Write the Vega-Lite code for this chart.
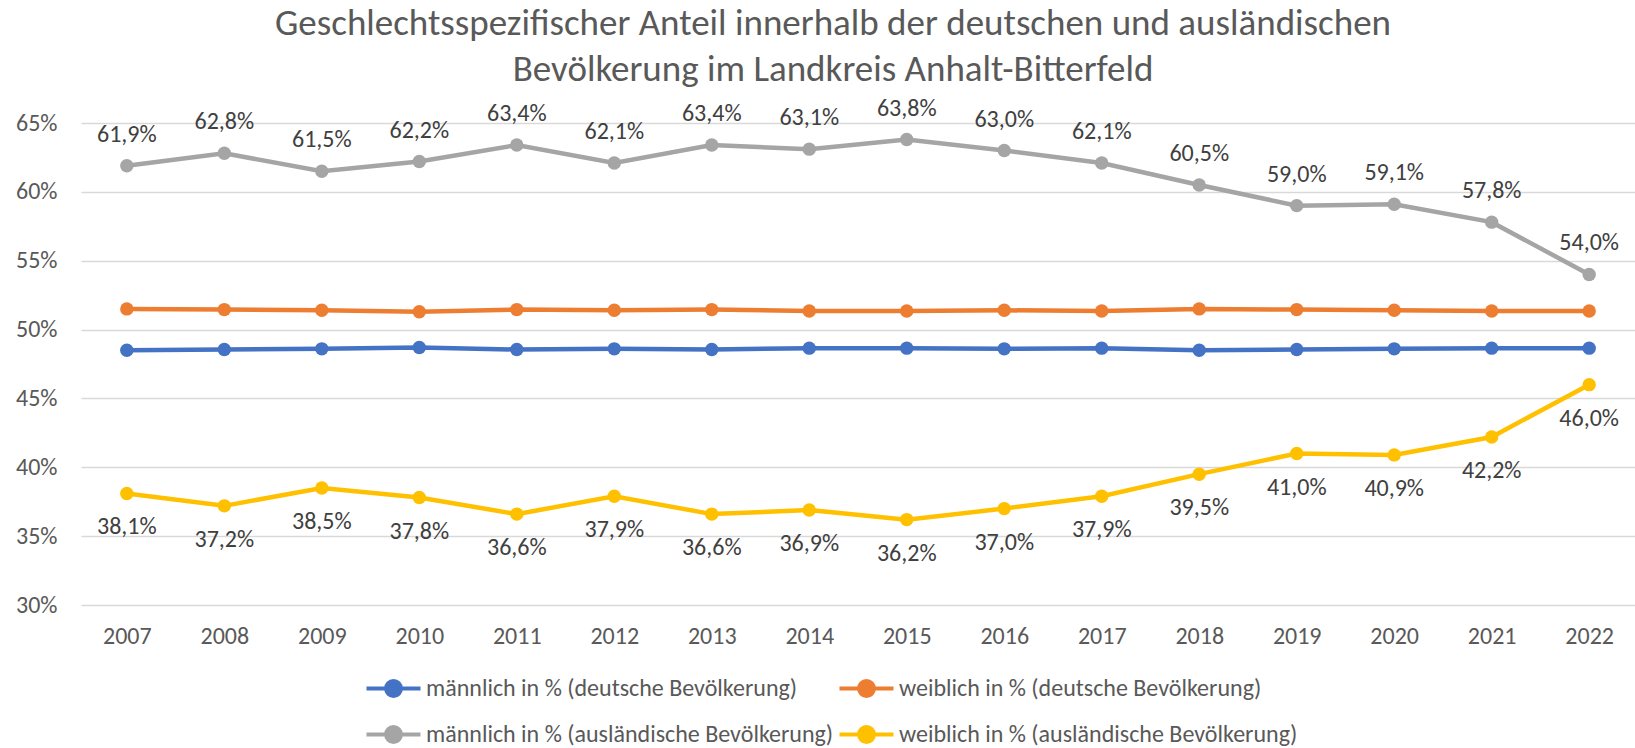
{
  "$schema": "https://vega.github.io/schema/vega-lite/v6.json",
  "autosize": {"type": "none"},
  "width": 1554,
  "height": 482,
  "padding": {"left": 81, "top": 123, "right": 0, "bottom": 143},
  "background": "#ffffff",
  "config": {
    "locale": {"number": {"decimal": ",", "thousands": ".", "grouping": [3], "currency": ["", " €"]}},
    "view": {"stroke": null},
    "font": "Carlito, Liberation Sans, sans-serif"
  },
  "title": {
    "text": ["Geschlechtsspezifischer Anteil innerhalb der deutschen und ausländischen", "Bevölkerung im Landkreis Anhalt-Bitterfeld"],
    "font": "Carlito, Liberation Sans, sans-serif",
    "fontSize": 37,
    "fontWeight": "normal",
    "color": "#595959",
    "anchor": "middle",
    "frame": "group",
    "dx": -25,
    "lineHeight": 46,
    "offset": 8
  },
  "data": {
    "values": [
      {"Jahr": "2007", "Reihe": "männlich in % (deutsche Bevölkerung)", "Anteil": 0.485},
      {"Jahr": "2008", "Reihe": "männlich in % (deutsche Bevölkerung)", "Anteil": 0.4855},
      {"Jahr": "2009", "Reihe": "männlich in % (deutsche Bevölkerung)", "Anteil": 0.486},
      {"Jahr": "2010", "Reihe": "männlich in % (deutsche Bevölkerung)", "Anteil": 0.487},
      {"Jahr": "2011", "Reihe": "männlich in % (deutsche Bevölkerung)", "Anteil": 0.4855},
      {"Jahr": "2012", "Reihe": "männlich in % (deutsche Bevölkerung)", "Anteil": 0.486},
      {"Jahr": "2013", "Reihe": "männlich in % (deutsche Bevölkerung)", "Anteil": 0.4855},
      {"Jahr": "2014", "Reihe": "männlich in % (deutsche Bevölkerung)", "Anteil": 0.4865},
      {"Jahr": "2015", "Reihe": "männlich in % (deutsche Bevölkerung)", "Anteil": 0.4865},
      {"Jahr": "2016", "Reihe": "männlich in % (deutsche Bevölkerung)", "Anteil": 0.486},
      {"Jahr": "2017", "Reihe": "männlich in % (deutsche Bevölkerung)", "Anteil": 0.4865},
      {"Jahr": "2018", "Reihe": "männlich in % (deutsche Bevölkerung)", "Anteil": 0.485},
      {"Jahr": "2019", "Reihe": "männlich in % (deutsche Bevölkerung)", "Anteil": 0.4855},
      {"Jahr": "2020", "Reihe": "männlich in % (deutsche Bevölkerung)", "Anteil": 0.486},
      {"Jahr": "2021", "Reihe": "männlich in % (deutsche Bevölkerung)", "Anteil": 0.4865},
      {"Jahr": "2022", "Reihe": "männlich in % (deutsche Bevölkerung)", "Anteil": 0.4865},
      {"Jahr": "2007", "Reihe": "weiblich in % (deutsche Bevölkerung)", "Anteil": 0.515},
      {"Jahr": "2008", "Reihe": "weiblich in % (deutsche Bevölkerung)", "Anteil": 0.5145},
      {"Jahr": "2009", "Reihe": "weiblich in % (deutsche Bevölkerung)", "Anteil": 0.514},
      {"Jahr": "2010", "Reihe": "weiblich in % (deutsche Bevölkerung)", "Anteil": 0.513},
      {"Jahr": "2011", "Reihe": "weiblich in % (deutsche Bevölkerung)", "Anteil": 0.5145},
      {"Jahr": "2012", "Reihe": "weiblich in % (deutsche Bevölkerung)", "Anteil": 0.514},
      {"Jahr": "2013", "Reihe": "weiblich in % (deutsche Bevölkerung)", "Anteil": 0.5145},
      {"Jahr": "2014", "Reihe": "weiblich in % (deutsche Bevölkerung)", "Anteil": 0.5135},
      {"Jahr": "2015", "Reihe": "weiblich in % (deutsche Bevölkerung)", "Anteil": 0.5135},
      {"Jahr": "2016", "Reihe": "weiblich in % (deutsche Bevölkerung)", "Anteil": 0.514},
      {"Jahr": "2017", "Reihe": "weiblich in % (deutsche Bevölkerung)", "Anteil": 0.5135},
      {"Jahr": "2018", "Reihe": "weiblich in % (deutsche Bevölkerung)", "Anteil": 0.515},
      {"Jahr": "2019", "Reihe": "weiblich in % (deutsche Bevölkerung)", "Anteil": 0.5145},
      {"Jahr": "2020", "Reihe": "weiblich in % (deutsche Bevölkerung)", "Anteil": 0.514},
      {"Jahr": "2021", "Reihe": "weiblich in % (deutsche Bevölkerung)", "Anteil": 0.5135},
      {"Jahr": "2022", "Reihe": "weiblich in % (deutsche Bevölkerung)", "Anteil": 0.5135},
      {"Jahr": "2007", "Reihe": "männlich in % (ausländische Bevölkerung)", "Anteil": 0.619},
      {"Jahr": "2008", "Reihe": "männlich in % (ausländische Bevölkerung)", "Anteil": 0.628},
      {"Jahr": "2009", "Reihe": "männlich in % (ausländische Bevölkerung)", "Anteil": 0.615},
      {"Jahr": "2010", "Reihe": "männlich in % (ausländische Bevölkerung)", "Anteil": 0.622},
      {"Jahr": "2011", "Reihe": "männlich in % (ausländische Bevölkerung)", "Anteil": 0.634},
      {"Jahr": "2012", "Reihe": "männlich in % (ausländische Bevölkerung)", "Anteil": 0.621},
      {"Jahr": "2013", "Reihe": "männlich in % (ausländische Bevölkerung)", "Anteil": 0.634},
      {"Jahr": "2014", "Reihe": "männlich in % (ausländische Bevölkerung)", "Anteil": 0.631},
      {"Jahr": "2015", "Reihe": "männlich in % (ausländische Bevölkerung)", "Anteil": 0.638},
      {"Jahr": "2016", "Reihe": "männlich in % (ausländische Bevölkerung)", "Anteil": 0.630},
      {"Jahr": "2017", "Reihe": "männlich in % (ausländische Bevölkerung)", "Anteil": 0.621},
      {"Jahr": "2018", "Reihe": "männlich in % (ausländische Bevölkerung)", "Anteil": 0.605},
      {"Jahr": "2019", "Reihe": "männlich in % (ausländische Bevölkerung)", "Anteil": 0.590},
      {"Jahr": "2020", "Reihe": "männlich in % (ausländische Bevölkerung)", "Anteil": 0.591},
      {"Jahr": "2021", "Reihe": "männlich in % (ausländische Bevölkerung)", "Anteil": 0.578},
      {"Jahr": "2022", "Reihe": "männlich in % (ausländische Bevölkerung)", "Anteil": 0.540},
      {"Jahr": "2007", "Reihe": "weiblich in % (ausländische Bevölkerung)", "Anteil": 0.381},
      {"Jahr": "2008", "Reihe": "weiblich in % (ausländische Bevölkerung)", "Anteil": 0.372},
      {"Jahr": "2009", "Reihe": "weiblich in % (ausländische Bevölkerung)", "Anteil": 0.385},
      {"Jahr": "2010", "Reihe": "weiblich in % (ausländische Bevölkerung)", "Anteil": 0.378},
      {"Jahr": "2011", "Reihe": "weiblich in % (ausländische Bevölkerung)", "Anteil": 0.366},
      {"Jahr": "2012", "Reihe": "weiblich in % (ausländische Bevölkerung)", "Anteil": 0.379},
      {"Jahr": "2013", "Reihe": "weiblich in % (ausländische Bevölkerung)", "Anteil": 0.366},
      {"Jahr": "2014", "Reihe": "weiblich in % (ausländische Bevölkerung)", "Anteil": 0.369},
      {"Jahr": "2015", "Reihe": "weiblich in % (ausländische Bevölkerung)", "Anteil": 0.362},
      {"Jahr": "2016", "Reihe": "weiblich in % (ausländische Bevölkerung)", "Anteil": 0.370},
      {"Jahr": "2017", "Reihe": "weiblich in % (ausländische Bevölkerung)", "Anteil": 0.379},
      {"Jahr": "2018", "Reihe": "weiblich in % (ausländische Bevölkerung)", "Anteil": 0.395},
      {"Jahr": "2019", "Reihe": "weiblich in % (ausländische Bevölkerung)", "Anteil": 0.410},
      {"Jahr": "2020", "Reihe": "weiblich in % (ausländische Bevölkerung)", "Anteil": 0.409},
      {"Jahr": "2021", "Reihe": "weiblich in % (ausländische Bevölkerung)", "Anteil": 0.422},
      {"Jahr": "2022", "Reihe": "weiblich in % (ausländische Bevölkerung)", "Anteil": 0.460}
    ]
  },
  "encoding": {
    "x": {
      "field": "Jahr",
      "type": "ordinal",
      "scale": {"type": "point", "padding": 0.47},
      "axis": {
        "title": null,
        "labelAngle": 0,
        "labelFontSize": 24,
        "labelColor": "#595959",
        "labelPadding": 19,
        "ticks": false,
        "domain": false,
        "grid": false
      }
    },
    "y": {
      "field": "Anteil",
      "type": "quantitative",
      "scale": {"domain": [0.3, 0.65], "nice": false, "zero": false},
      "axis": {
        "title": null,
        "values": [0.3, 0.35, 0.4, 0.45, 0.5, 0.55, 0.6, 0.65],
        "format": ".0%",
        "labelFontSize": 24,
        "labelColor": "#595959",
        "labelPadding": 24,
        "ticks": false,
        "domain": false,
        "gridColor": "#D9D9D9",
        "gridWidth": 1.5
      }
    },
    "color": {
      "field": "Reihe",
      "type": "nominal",
      "scale": {
        "domain": ["männlich in % (deutsche Bevölkerung)", "männlich in % (ausländische Bevölkerung)", "weiblich in % (deutsche Bevölkerung)", "weiblich in % (ausländische Bevölkerung)"],
        "range": ["#4472C4", "#A5A5A5", "#ED7D31", "#FFC000"]
      },
      "legend": {
        "title": null,
        "orient": "none",
        "legendX": 297,
        "legendY": 550,
        "columns": 2,
        "columnPadding": -3,
        "rowPadding": 15,
        "symbolType": "M-2,0L2,0M-0.55,0A0.55,0.55,0,1,1,0.55,0A0.55,0.55,0,1,1,-0.55,0Z",
        "symbolSize": 729,
        "symbolStrokeWidth": 4,
        "labelOffset": 17,
        "labelFontSize": 24,
        "labelColor": "#595959",
        "labelLimit": 700,
        "encode": {
          "symbols": {
            "update": {
              "fill": {"scale": "color", "field": "value"},
              "stroke": {"scale": "color", "field": "value"}
            }
          }
        }
      }
    }
  },
  "layer": [
    {"mark": {"type": "line", "strokeWidth": 4.5}},
    {"mark": {"type": "point", "filled": true, "size": 180, "opacity": 1}},
    {
      "transform": [{"filter": "datum.Reihe === 'männlich in % (ausländische Bevölkerung)'"}],
      "mark": {"type": "text", "dy": -31, "fontSize": 24, "color": "#404040"},
      "encoding": {"text": {"field": "Anteil", "format": ".1%"}, "color": {"value": "#404040"}}
    },
    {
      "transform": [{"filter": "datum.Reihe === 'weiblich in % (ausländische Bevölkerung)'"}],
      "mark": {"type": "text", "dy": 34, "fontSize": 24, "color": "#404040"},
      "encoding": {"text": {"field": "Anteil", "format": ".1%"}, "color": {"value": "#404040"}}
    }
  ]
}
